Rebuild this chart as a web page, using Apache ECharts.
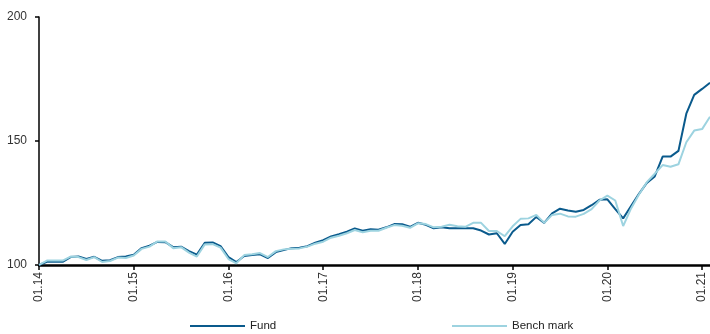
<!DOCTYPE html>
<html>
<head>
<meta charset="utf-8">
<script src="https://cdn.jsdelivr.net/npm/echarts@6/dist/echarts.min.js"></script>
<style>
html,body{margin:0;padding:0;background:#fff;}
#chart{width:710px;height:334px;}
</style>
</head>
<body>
<div id="chart"></div>
<script>
// Monthly categories Jan 2014 .. Feb 2021
var startYear = 14, startMonth = 1, monthCount = 86;
var categories = [];
for (var k = 0; k < monthCount; k++) {
  var m = (startMonth - 1 + k) % 12 + 1;
  var y = startYear + Math.floor((startMonth - 1 + k) / 12);
  categories.push((m < 10 ? '0' + m : '' + m) + '.' + y);
}

var fundValues = [
  100, 101.3, 101.3, 101.3, 103.2, 103.4, 102.4, 103.3, 101.7, 101.9, 103.2, 103.4,
  104.1, 106.8, 107.8, 109.3, 109.2, 107.2, 107.4, 105.6, 104.2, 109.0, 109.1, 107.6,
  103.2, 101.2, 103.6, 104.0, 104.3, 102.8, 105.2, 106.0, 106.8, 107.0, 107.6, 109.0,
  110.0, 111.5, 112.4, 113.4, 114.7, 113.8, 114.4, 114.2, 115.2, 116.5, 116.4, 115.4,
  117.0, 116.2, 114.8, 115.2, 114.8, 114.8, 114.8, 114.8, 113.9, 112.3, 112.8, 108.5,
  113.4, 116.1, 116.4, 119.4, 117.0, 120.8, 122.7, 122.0, 121.5, 122.2, 124.1, 126.3,
  126.5, 122.5, 118.8, 123.8, 128.7, 133.1, 135.7, 143.7, 143.7, 146.0, 161.0, 168.6,
  171.0, 173.5
];

var benchValues = [
  100, 101.8, 101.8, 101.8, 103.4, 103.2, 102.0, 103.2, 101.2, 101.6, 103.0, 102.8,
  103.8, 106.5, 107.4, 109.5, 109.5, 106.8, 107.2, 105.0, 103.4, 108.3, 108.4, 107.0,
  102.4, 100.7, 104.0, 104.3, 104.8, 103.2, 105.6, 106.3, 106.6, 106.7, 107.4, 108.6,
  109.4, 111.0, 111.8, 112.8, 114.1, 113.2, 113.8, 113.8, 115.0, 116.1, 115.8, 115.0,
  116.8, 116.5, 115.2, 115.4, 116.2, 115.6, 115.4, 117.0, 117.0, 113.7, 113.7, 111.6,
  115.6, 118.6, 118.8, 120.2, 117.0, 120.2, 120.7, 119.6, 119.5, 120.6, 122.5, 126.0,
  128.0, 126.0, 115.7, 122.8, 128.4, 133.4, 136.8, 140.3, 139.6, 140.6, 149.5, 154.2,
  154.8, 159.8
];

var yTicks = [100, 150, 200];
var seriesNames = ['Fund', 'Bench mark'];

var chart = echarts.init(document.getElementById('chart'), null, {renderer: 'canvas'});
var axisFont = 'Liberation Sans, Arial, sans-serif';

chart.setOption({
  animation: false,
  backgroundColor: '#ffffff',
  grid: {left: 39, right: 0, top: 17, bottom: 69, containLabel: false},
  legend: [
    {
      data: [{name: seriesNames[0], icon: 'rect'}],
      left: 190, top: 320, padding: 0, itemWidth: 55, itemHeight: 2, itemGap: 3,
      textStyle: {fontFamily: axisFont, fontSize: 11.5, color: '#222'}
    },
    {
      data: [{name: seriesNames[1], icon: 'rect'}],
      left: 452, top: 320, padding: 0, itemWidth: 55, itemHeight: 2, itemGap: 3,
      textStyle: {fontFamily: axisFont, fontSize: 11.5, color: '#222'}
    }
  ],
  xAxis: {
    type: 'category',
    data: categories,
    boundaryGap: false,
    axisLine: {onZero: false, lineStyle: {color: '#000', width: 2.5}},
    axisTick: {show: true, interval: 11, length: 5, lineStyle: {color: '#000', width: 1.5}},
    axisLabel: {
      interval: 11, rotate: 90, margin: 7,
      fontFamily: axisFont, fontSize: 12, color: '#333'
    },
    splitLine: {show: false}
  },
  yAxis: {
    type: 'value',
    min: yTicks[0], max: yTicks[yTicks.length - 1], interval: yTicks[1] - yTicks[0],
    axisLine: {show: true, lineStyle: {color: '#000', width: 1.5}},
    axisTick: {show: true, length: 4, lineStyle: {color: '#000', width: 1.5}},
    axisLabel: {margin: 12, fontFamily: axisFont, fontSize: 12, color: '#333'},
    splitLine: {show: false}
  },
  series: [
    {
      name: seriesNames[0], type: 'line', data: fundValues,
      showSymbol: false, symbol: 'none',
      lineStyle: {color: '#0a5a8c', width: 2},
      itemStyle: {color: '#0a5a8c'}, z: 2
    },
    {
      name: seriesNames[1], type: 'line', data: benchValues,
      showSymbol: false, symbol: 'none',
      lineStyle: {color: '#9dd3e0', width: 2},
      itemStyle: {color: '#9dd3e0'}, z: 3
    }
  ]
});
</script>
</body>
</html>
